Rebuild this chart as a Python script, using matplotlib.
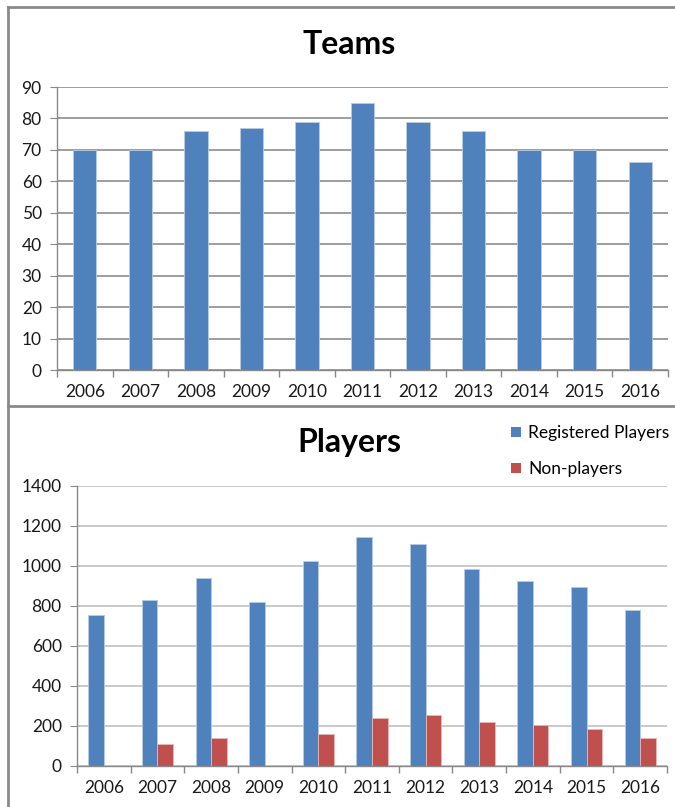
import numpy as np
import matplotlib.pyplot as plt
from matplotlib.lines import Line2D
from matplotlib.patches import Patch

plt.rcParams['font.family'] = ['Lato', 'DejaVu Sans']

years = ['2006', '2007', '2008', '2009', '2010', '2011',
         '2012', '2013', '2014', '2015', '2016']
teams = [70, 70, 76, 77, 79, 85, 79, 76, 70, 70, 66]
registered = [757, 829, 942, 820, 1027, 1145, 1110, 987, 923, 893, 780]
non_players = [0, 110, 138, 0, 160, 242, 255, 222, 205, 187, 138]

blue = '#4f81bd'
red = '#c0504d'
W, H = 675, 807


def style_axis(ax, grid_color, ymax, ystep):
    n = len(years)
    ax.set_xlim(-0.5, n - 0.5)
    ax.set_ylim(0, ymax)
    ax.set_yticks(np.arange(0, ymax + 1, ystep))
    ax.set_xticks(np.arange(n))
    ax.set_xticklabels(years)
    ax.set_xticks(np.arange(n + 1) - 0.5, minor=True)
    ax.tick_params(axis='x', which='major', length=0, pad=10, labelsize=12.5, colors='#1a1a1a')
    ax.tick_params(axis='x', which='minor', length=5, color='#888888', width=1)
    ax.tick_params(axis='y', length=5, color='#888888', pad=6, labelsize=12.5, colors='#1a1a1a')
    ax.yaxis.grid(True, color=grid_color, linewidth=1.2)
    ax.set_axisbelow(True)
    for s in ['top', 'right']:
        ax.spines[s].set_visible(False)
    ax.spines['left'].set_color('#888888')
    ax.spines['bottom'].set_color('#888888')
    ax.spines['left'].set_linewidth(1)
    ax.spines['bottom'].set_linewidth(1)


fig = plt.figure(figsize=(W / 100, H / 100), dpi=100)

# top chart: teams
ax1 = fig.add_axes([57 / W, 1 - 370 / H, (668 - 57) / W, (370 - 87) / H])
x = np.arange(len(years))
ax1.bar(x, teams, width=0.42, color=blue, edgecolor='#b8cce4', linewidth=0.6)
style_axis(ax1, '#8c8c8c', 90, 10)
fig.text(349 / W, 1 - 45 / H, 'Teams', ha='center', va='center',
         fontsize=23, fontweight='bold')

# bottom chart: players
ax2 = fig.add_axes([77 / W, 1 - 766 / H, (667 - 77) / W, (766 - 486) / H])
bw = 0.29
ax2.bar(x - bw / 2, registered, width=bw, color=blue, edgecolor='#b8cce4', linewidth=0.6)
ax2.bar(x + bw / 2, non_players, width=bw, color=red, edgecolor='#e6b9b8', linewidth=0.6)
style_axis(ax2, '#c0c0c0', 1400, 200)
fig.text(349 / W, 1 - 443 / H, 'Players', ha='center', va='center',
         fontsize=23, fontweight='bold')

handles = [Patch(facecolor=blue, edgecolor='none', label='Registered Players'),
           Patch(facecolor=red, edgecolor='none', label='Non-players')]
fig.legend(handles=handles, loc='upper left', bbox_to_anchor=(511 / W, 1 - 425 / H),
           frameon=False, fontsize=12.5, handlelength=0.55, handleheight=0.55,
           handletextpad=0.45, labelspacing=1.15, borderpad=0, borderaxespad=0)

# chart panel borders
border = dict(color='#8a8a8a', linewidth=2, transform=fig.transFigure)
fig.add_artist(Line2D([8 / W, 1], [1 - 7 / H, 1 - 7 / H], **border))
fig.add_artist(Line2D([8 / W, 8 / W], [1 - 7 / H, 0], **border))
fig.add_artist(Line2D([8 / W, 1], [1 - 406 / H, 1 - 406 / H], **border))

fig.savefig('out.png', dpi=100)
